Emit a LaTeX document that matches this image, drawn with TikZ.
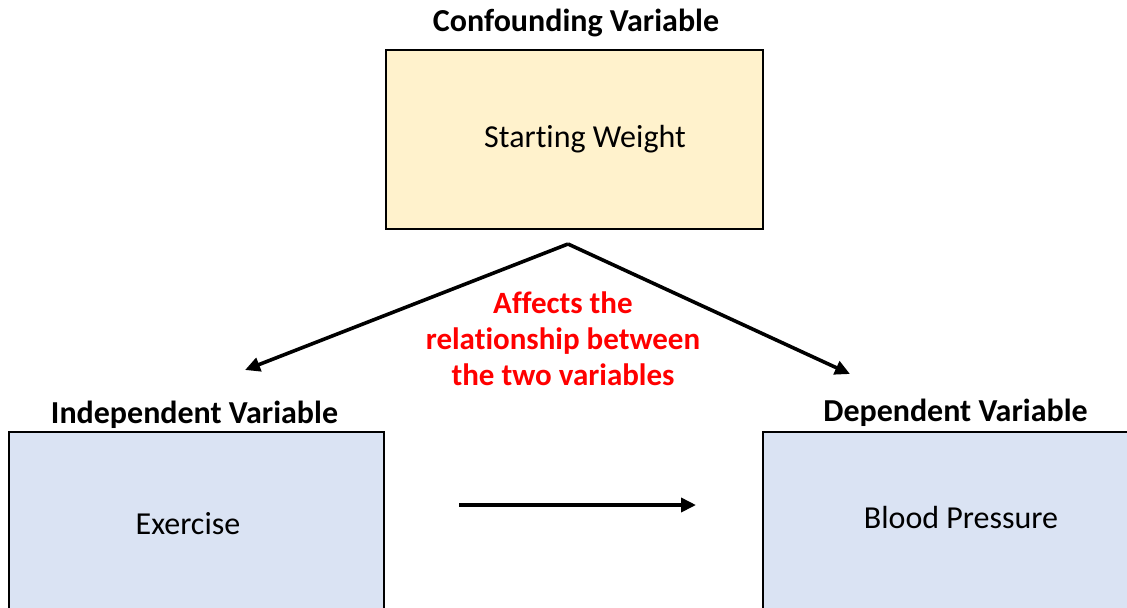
\documentclass[tikz,border=0pt]{standalone}
\usepackage{fontspec}
\setmainfont[Ligatures=NoCommon]{Carlito}
\usepackage{xcolor}
\usetikzlibrary{arrows.meta}
\definecolor{cyellow}{HTML}{FFF2CC}
\definecolor{cblue}{HTML}{DAE3F3}
\definecolor{cred}{HTML}{FF0000}

\begin{document}
\begin{tikzpicture}[x=0.5pt, y=0.5pt, font=\fontsize{16pt}{18pt}\selectfont,
  varbox/.style={draw=black, line width=1.4pt, inner sep=0pt},
  head/.style={anchor=base, font=\fontsize{16pt}{18pt}\selectfont\bfseries},
  txt/.style={anchor=base},
  link/.style={line width=1.8pt, -{Triangle[length=7.5pt,width=7pt]}},
]
\useasboundingbox (0,0) rectangle (1127,607);
\clip (0,0) rectangle (1127,607);
% boxes
\node[varbox, fill=cyellow, minimum width=188.5pt, minimum height=89.5pt] (conf) at (574.5,467.5) {};
\node[varbox, fill=cblue, minimum width=187.5pt, minimum height=100pt] (indep) at (196.5,75) {};
\node[varbox, fill=cblue, minimum width=188.5pt, minimum height=100pt] (dep) at (951.5,75) {};
% headings and texts
\node[head] (confHead) at (576,575) {Confounding Variable};
\node[head] (indepHead) at (194.5,184) {Independent Variable};
\node[head] (depHead) at (955.5,186) {Dependent Variable};
\node[txt] (confTxt) at (585,460) {Starting Weight};
\node[txt] (indepTxt) at (188,73) {Exercise};
\node[txt] (depTxt) at (961,79) {Blood Pressure};
\node[align=center, text=cred, font=\fontsize{15.5pt}{18pt}\selectfont\bfseries] (effect) at (563,268) {Affects the\\relationship between\\the two variables};
% arrows
\coordinate (apex) at (568,363);
\coordinate (lTip) at (245,237);
\coordinate (rTip) at (850,233);
\coordinate (hStart) at (459,102);
\coordinate (hEnd) at (696,102);
\draw[link] (apex) -- (lTip);
\draw[link] (apex) -- (rTip);
\draw[link] (hStart) -- (hEnd);
\end{tikzpicture}
\end{document}
